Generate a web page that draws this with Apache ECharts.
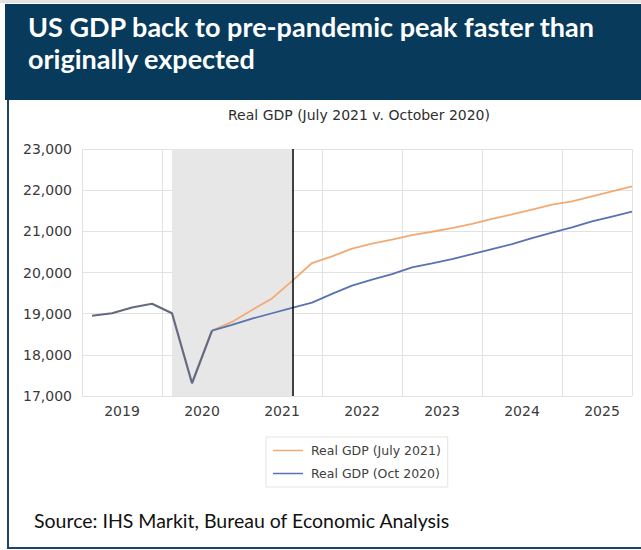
<!DOCTYPE html>
<html>
<head>
<meta charset="utf-8">
<script src="https://cdn.jsdelivr.net/npm/echarts@6/dist/echarts.min.js"></script>
<style>
html,body{margin:0;padding:0;background:#fff;}
#chart{width:641px;height:550px;}
</style>
</head>
<body>
<div id="chart"></div>
<script>
// ---- Data (quarterly real GDP, $bn chained) ----
var actualQuarters = ['2019Q1','2019Q2','2019Q3','2019Q4','2020Q1','2020Q2','2020Q3'];
var actualValues   = [18950, 19010, 19150, 19240, 19010, 17310, 18590];

var forecastQuarters = ['2020Q3','2020Q4','2021Q1','2021Q2','2021Q3','2021Q4',
  '2022Q1','2022Q2','2022Q3','2022Q4','2023Q1','2023Q2','2023Q3','2023Q4',
  '2024Q1','2024Q2','2024Q3','2024Q4','2025Q1','2025Q2','2025Q3','2025Q4'];
var july2021Values = [18590, 18800, 19090, 19370, 19790, 20230,
  20390, 20580, 20700, 20800, 20910, 20990, 21080, 21180,
  21300, 21410, 21530, 21650, 21730, 21850, 21970, 22090];
var oct2020Values = [18590, 18730, 18880, 19010, 19140, 19270,
  19480, 19680, 19825, 19960, 20125, 20220, 20325, 20445,
  20570, 20690, 20835, 20970, 21095, 21240, 21360, 21480];

var yearLabels = ['2019','2020','2021','2022','2023','2024','2025'];
var shadeStart = '2020Q1';
var shadeEnd = '2021Q3';

var seriesNames = ['Real GDP (July 2021)', 'Real GDP (Oct 2020)'];
var headerText = 'US GDP back to pre-pandemic peak faster than\noriginally expected';
var chartTitle = 'Real GDP (July 2021 v. October 2020)';
var sourceText = 'Source: IHS Markit, Bureau of Economic Analysis';

// quarter label -> position in years (quarter midpoint)
function qx(q) {
  var y = parseInt(q.slice(0, 4), 10);
  var n = parseInt(q.slice(5), 10);
  return y + (n - 0.5) / 4;
}
function pairs(qs, vs) { return qs.map(function (q, i) { return [qx(q), vs[i]]; }); }

var chart = echarts.init(document.getElementById('chart'), null, {renderer: 'svg'});
var xMin = parseInt(yearLabels[0], 10);
var xMax = qx(forecastQuarters[forecastQuarters.length - 1]);

var option = {
  animation: false,
  backgroundColor: '#ffffff',
  graphic: [
    {type: 'rect', shape: {x: 0, y: 0, width: 641, height: 3}, style: {fill: '#e3e3e3'}},
    {type: 'rect', shape: {x: 5, y: 4, width: 636, height: 96}, style: {fill: '#073a5b'}},
    {type: 'polyline', shape: {points: [[8, 100], [8, 548], [641, 548]]},
      style: {stroke: '#1d4567', lineWidth: 2, fill: null}},
    {type: 'text', x: 28, y: 42, style: {text: headerText, fill: '#ffffff',
      font: 'bold 27px Lato, "Open Sans", sans-serif', lineHeight: 32, verticalAlign: 'middle'}},
    {type: 'text', x: 359, y: 115, style: {text: chartTitle, fill: '#2e2e2e',
      font: '14px "DejaVu Sans", sans-serif', align: 'center', verticalAlign: 'middle'}},
    {type: 'text', x: 34, y: 520, style: {text: sourceText, fill: '#111111',
      font: '19.5px Lato, "Open Sans", sans-serif', verticalAlign: 'middle'}}
  ],
  legend: {
    orient: 'vertical',
    left: 266, top: 437,
    padding: [7, 7, 7, 7],
    itemGap: 10,
    itemWidth: 30, itemHeight: 1.5,
    icon: 'rect',
    borderColor: '#e3e3e3', borderWidth: 1,
    data: seriesNames,
    textStyle: {fontFamily: 'DejaVu Sans', fontSize: 12.5, color: '#404040', padding: [0, 0, 0, 3]}
  },
  grid: {left: 82, right: 9, top: 149, bottom: 154},
  xAxis: {
    type: 'value', min: xMin, max: xMax, interval: 1,
    axisLine: {show: false}, axisTick: {show: false},
    splitLine: {show: true, lineStyle: {color: '#e2e2e2', width: 1}},
    axisLabel: {
      fontFamily: 'DejaVu Sans', fontSize: 14, color: '#3a3a3a', margin: 8,
      align: 'center', padding: [0, 0, 0, 80],
      formatter: function (v) {
        var i = yearLabels.indexOf(String(v));
        return (Math.abs(v - Math.round(v)) < 1e-9 && i >= 0) ? yearLabels[i] : '';
      }
    }
  },
  yAxis: {
    type: 'value', min: 17000, max: 23000, interval: 1000,
    axisLine: {show: false}, axisTick: {show: false},
    splitLine: {lineStyle: {color: '#e2e2e2', width: 1}},
    axisLabel: {
      fontFamily: 'DejaVu Sans', fontSize: 14, color: '#3a3a3a', margin: 10,
      formatter: function (v) { return v.toLocaleString('en-US'); }
    }
  },
  series: [
    {
      name: 'shade', type: 'line', data: [], z: 1, silent: true,
      markArea: {silent: true, itemStyle: {color: '#e7e7e7'},
        data: [[{xAxis: qx(shadeStart)}, {xAxis: qx(shadeEnd)}]]},
      markLine: {silent: true, symbol: 'none', label: {show: false},
        lineStyle: {color: '#000000', width: 1.5, type: 'solid'},
        data: [{xAxis: qx(shadeEnd)}]}
    },
    {
      name: seriesNames[0], type: 'line', z: 3, showSymbol: false,
      color: '#f2aa74',
      lineStyle: {color: '#f2aa74', width: 1.8},
      data: pairs(forecastQuarters, july2021Values)
    },
    {
      name: seriesNames[1], type: 'line', z: 3, showSymbol: false,
      color: '#5873b0',
      lineStyle: {color: '#5873b0', width: 1.8},
      data: pairs(forecastQuarters, oct2020Values)
    },
    {
      name: 'Actual', type: 'line', z: 4, showSymbol: false,
      lineStyle: {color: '#666a80', width: 2.2},
      data: pairs(actualQuarters, actualValues)
    }
  ]
};
chart.setOption(option);
</script>
</body>
</html>
